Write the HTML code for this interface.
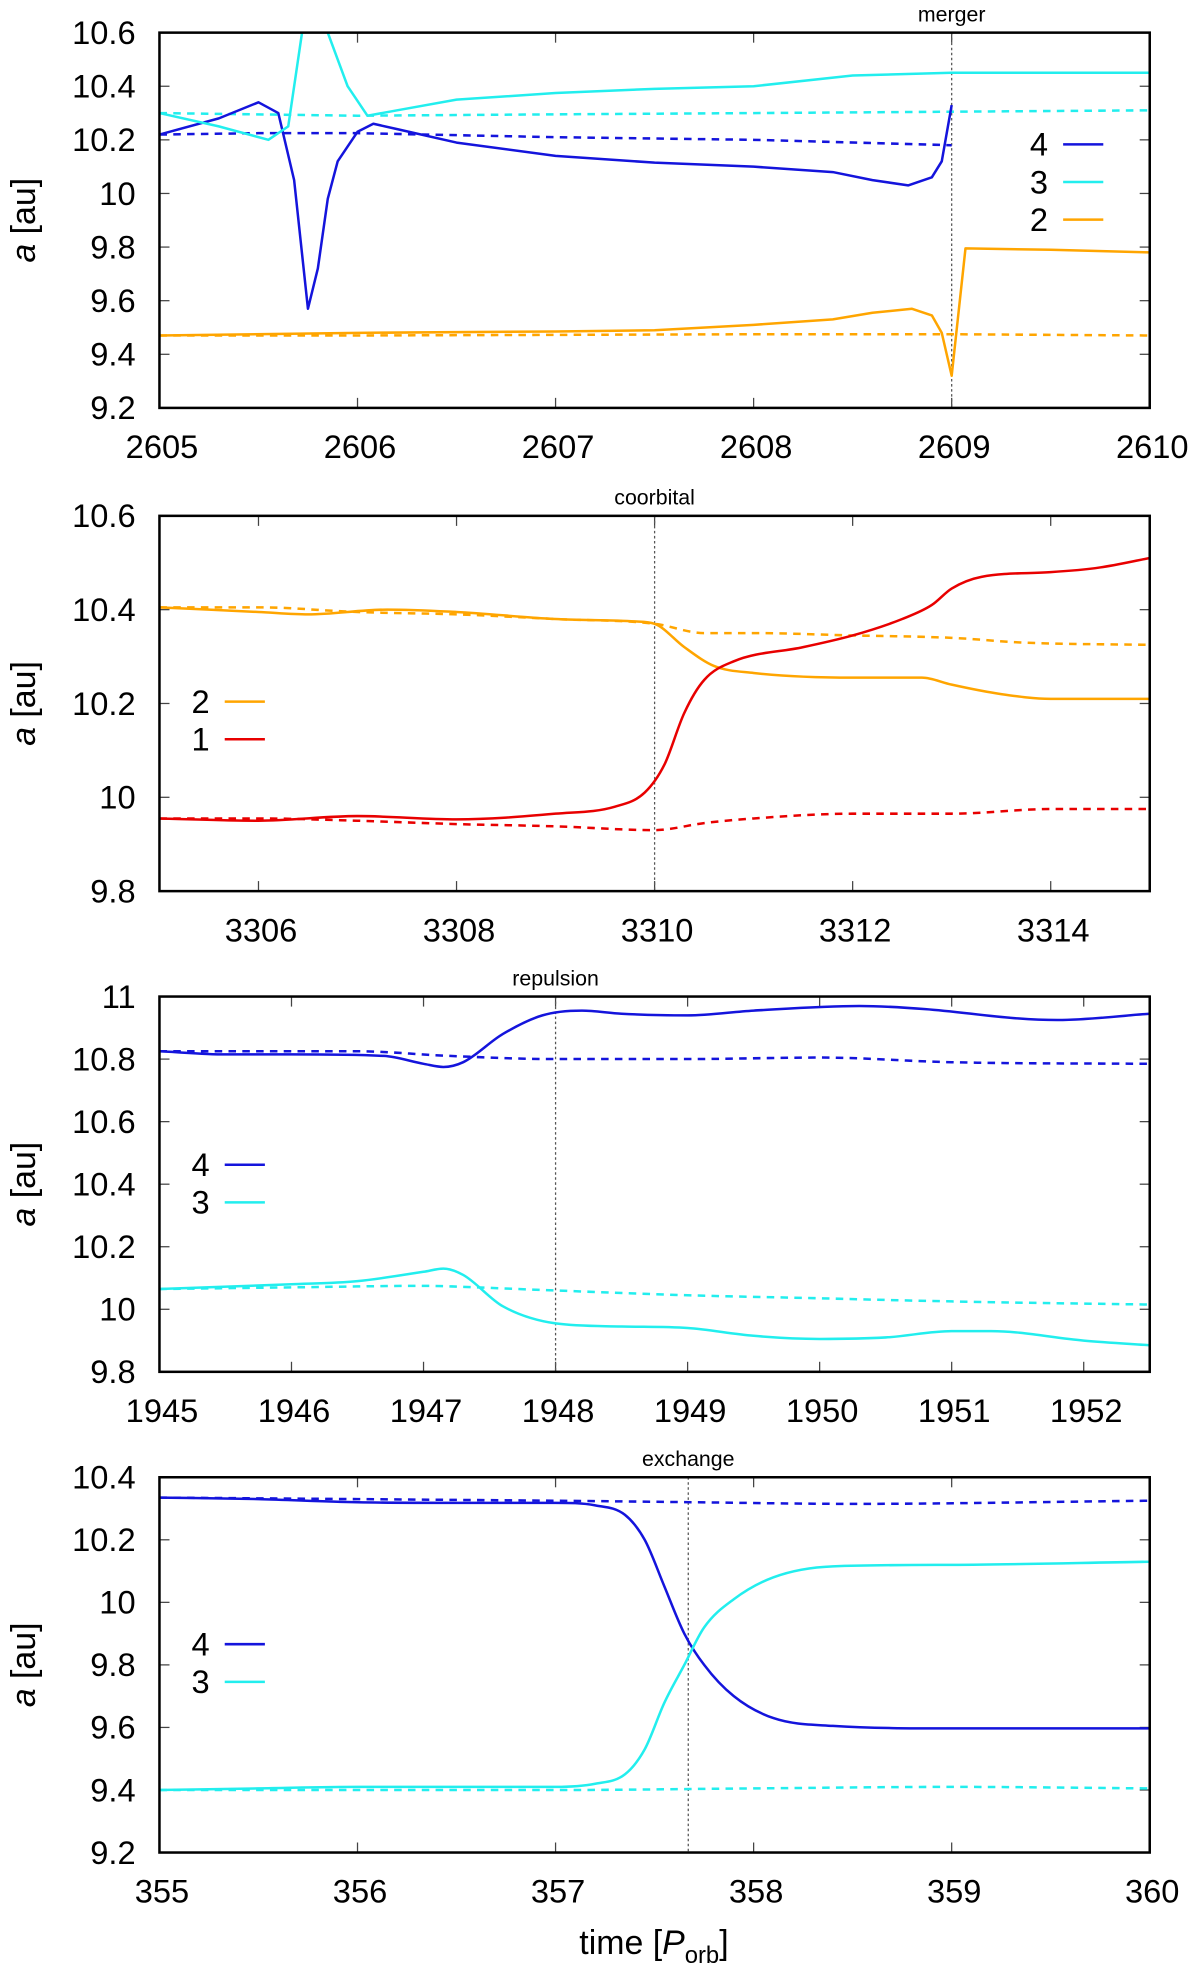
<!DOCTYPE html>
<html><head><meta charset="utf-8"><style>
html,body{margin:0;padding:0;background:#fff;}
svg{display:block;font-family:"Liberation Sans",sans-serif;}
</style></head><body>
<svg id="fig" width="1200" height="1968" viewBox="0 0 956 1568" xmlns="http://www.w3.org/2000/svg"></svg>
<script>
// ---- Panel data (top level) ----
const p1Title = "merger";
const p1XTicks = [2605, 2606, 2607, 2608, 2609, 2610];
const p1YTicks = [9.2, 9.4, 9.6, 9.8, 10, 10.2, 10.4, 10.6];
const p1YTickLabels = ["9.2","9.4","9.6","9.8","10","10.2","10.4","10.6"];
const p1Event = 2609;
const p1BlueX = [2605,2605.3,2605.5,2605.6,2605.68,2605.75,2605.8,2605.85,2605.9,2606,2606.08,2606.2,2606.5,2607,2607.5,2608,2608.4,2608.6,2608.78,2608.9,2608.95,2609];
const p1BlueY = [10.22,10.28,10.34,10.3,10.05,9.57,9.72,9.98,10.12,10.23,10.26,10.24,10.19,10.14,10.115,10.1,10.08,10.05,10.03,10.06,10.12,10.33];
const p1BlueDX = [2605,2605.5,2606,2607,2608,2609];
const p1BlueDY = [10.22,10.225,10.225,10.21,10.2,10.18];
const p1CyanX = [2605,2605.3,2605.55,2605.65,2605.72,2605.78,2605.85,2605.95,2606.05,2606.2,2606.5,2607,2607.5,2608,2608.5,2609,2610];
const p1CyanY = [10.3,10.25,10.2,10.25,10.6,10.9,10.6,10.4,10.29,10.31,10.35,10.375,10.39,10.4,10.44,10.45,10.45];
const p1CyanDX = [2605,2606,2607,2608,2609,2610];
const p1CyanDY = [10.3,10.29,10.295,10.3,10.305,10.31];
const p1OrangeX = [2605,2606,2607,2607.5,2608,2608.4,2608.6,2608.8,2608.9,2608.95,2609,2609.07,2609.5,2610];
const p1OrangeY = [9.47,9.48,9.485,9.49,9.51,9.53,9.555,9.57,9.545,9.48,9.32,9.795,9.79,9.78];
const p1OrangeDX = [2605,2606,2608,2609,2610];
const p1OrangeDY = [9.47,9.47,9.475,9.475,9.47];

const p2Title = "coorbital";
const p2XTicks = [3306, 3308, 3310, 3312, 3314];
const p2YTicks = [9.8, 10, 10.2, 10.4, 10.6];
const p2YTickLabels = ["9.8","10","10.2","10.4","10.6"];
const p2Event = 3310;
const p2OrangeX = [3305,3306,3306.5,3307.3,3308,3309,3309.8,3310,3310.3,3310.6,3311,3312,3312.7,3313,3313.5,3314,3315];
const p2OrangeY = [10.405,10.395,10.39,10.4,10.395,10.38,10.375,10.37,10.32,10.28,10.265,10.255,10.255,10.24,10.22,10.21,10.21];
const p2OrangeDX = [3305,3306,3307,3308,3309,3310,3310.5,3311,3312,3313,3313.7,3315];
const p2OrangeDY = [10.405,10.405,10.395,10.39,10.38,10.37,10.35,10.35,10.345,10.34,10.33,10.325];
const p2RedX = [3305,3306,3307,3308,3309,3309.6,3309.9,3310.1,3310.3,3310.5,3310.8,3311.5,3312,3312.5,3312.8,3313,3313.3,3314,3314.5,3315];
const p2RedY = [9.955,9.95,9.96,9.953,9.965,9.98,10.01,10.07,10.18,10.25,10.29,10.32,10.345,10.38,10.41,10.445,10.47,10.48,10.49,10.51];
const p2RedDX = [3305,3306,3307,3308,3309,3310,3310.5,3311,3312,3313,3314,3315];
const p2RedDY = [9.955,9.955,9.95,9.943,9.938,9.93,9.945,9.955,9.965,9.965,9.975,9.975];

const p3Title = "repulsion";
const p3XTicks = [1945,1946,1947,1948,1949,1950,1951,1952];
const p3YTicks = [9.8,10,10.2,10.4,10.6,10.8,11];
const p3YTickLabels = ["9.8","10","10.2","10.4","10.6","10.8","11"];
const p3Event = 1948;
const p3BlueX = [1945,1945.5,1946,1946.7,1947,1947.15,1947.3,1947.6,1947.9,1948.2,1948.5,1949,1949.5,1950.3,1950.8,1951.5,1951.8,1952.5];
const p3BlueY = [10.825,10.815,10.815,10.81,10.785,10.775,10.79,10.88,10.94,10.955,10.945,10.94,10.955,10.97,10.96,10.93,10.925,10.945];
const p3BlueDX = [1945,1946.5,1947.2,1948,1949,1950,1951,1952.5];
const p3BlueDY = [10.825,10.825,10.81,10.8,10.8,10.805,10.79,10.785];
const p3CyanX = [1945,1946,1946.5,1947,1947.15,1947.3,1947.6,1948,1948.5,1949,1949.5,1950,1950.5,1951,1951.3,1952,1952.5];
const p3CyanY = [10.065,10.08,10.09,10.12,10.13,10.11,10.01,9.955,9.945,9.94,9.915,9.905,9.91,9.93,9.93,9.9,9.885];
const p3CyanDX = [1945,1946,1947,1947.4,1948,1949,1950,1951,1952.5];
const p3CyanDY = [10.065,10.07,10.075,10.07,10.06,10.045,10.035,10.025,10.015];

const p4Title = "exchange";
const p4XTicks = [355,356,357,358,359,360];
const p4YTicks = [9.2,9.4,9.6,9.8,10,10.2,10.4];
const p4YTickLabels = ["9.2","9.4","9.6","9.8","10","10.2","10.4"];
const p4Event = 357.67;
const p4BlueX = [355,355.5,356,356.5,357,357.2,357.35,357.45,357.55,357.65,357.75,357.9,358.1,358.4,359,360];
const p4BlueY = [10.335,10.33,10.32,10.318,10.318,10.31,10.28,10.2,10.05,9.9,9.8,9.7,9.63,9.605,9.597,9.597];
const p4BlueDX = [355,356,357,357.7,358.5,360];
const p4BlueDY = [10.335,10.33,10.325,10.32,10.315,10.325];
const p4CyanX = [355,355.5,356,356.5,357,357.2,357.35,357.45,357.55,357.65,357.75,357.9,358.1,358.4,359,360];
const p4CyanY = [9.4,9.405,9.41,9.41,9.41,9.42,9.45,9.53,9.68,9.8,9.92,10.01,10.08,10.115,10.12,10.13];
const p4CyanDX = [355,356,357,358,359,360];
const p4CyanDY = [9.4,9.4,9.4,9.405,9.41,9.405];

const BLUE="#1414dc", CYAN="#22eeee", ORANGE="#ffa500", RED="#e80000";
const NS="http://www.w3.org/2000/svg";
const svg=document.getElementById('fig');
function mk(tag,attrs,parent){const e=document.createElementNS(NS,tag);for(const k in attrs)e.setAttribute(k,attrs[k]);(parent||svg).appendChild(e);return e;}

// monotone cubic path through pixel points
function monoPath(P){
  const n=P.length; if(n<3) return 'M'+P.map(p=>p[0].toFixed(1)+','+p[1].toFixed(1)).join(' L');
  const d=[],m=[];
  for(let i=0;i<n-1;i++){d.push((P[i+1][1]-P[i][1])/(P[i+1][0]-P[i][0]));}
  m[0]=d[0]; m[n-1]=d[n-2];
  for(let i=1;i<n-1;i++){ m[i]=(d[i-1]*d[i]<=0)?0:(d[i-1]+d[i])/2; }
  for(let i=0;i<n-1;i++){
    if(d[i]===0){m[i]=0;m[i+1]=0;continue;}
    const a=m[i]/d[i],b=m[i+1]/d[i],s=a*a+b*b;
    if(s>9){const t=3/Math.sqrt(s);m[i]=t*a*d[i];m[i+1]=t*b*d[i];}
  }
  let s='M'+P[0][0].toFixed(1)+','+P[0][1].toFixed(1);
  for(let i=0;i<n-1;i++){
    const h=(P[i+1][0]-P[i][0])/3;
    s+=' C'+(P[i][0]+h).toFixed(1)+','+(P[i][1]+m[i]*h).toFixed(1)+' '+(P[i+1][0]-h).toFixed(1)+','+(P[i+1][1]-m[i+1]*h).toFixed(1)+' '+P[i+1][0].toFixed(1)+','+P[i+1][1].toFixed(1);
  }
  return s;
}

function panel(idx,cfg){
  const L=127,R=916,T=cfg.top,B=cfg.top+299;
  const sx=v=>L+(v-cfg.x0)/(cfg.x1-cfg.x0)*(R-L);
  const sy=v=>B-(v-cfg.y0)/(cfg.y1-cfg.y0)*(B-T);
  const g=mk('g',{});
  
  
  const cp=mk('clipPath',{id:'clip'+idx},g);
  mk('rect',{x:L,y:T,width:R-L,height:B-T},cp);
  cfg.xt.forEach(v=>{
    const x=sx(v);
    const t1=mk('line',{x1:x,y1:B,x2:x,y2:B-8,stroke:'#444','stroke-width':1},g);
    
    
    mk('line',{x1:x,y1:T,x2:x,y2:T+8,stroke:'#444','stroke-width':1},g);
    const tx=mk('text',{x:x+2,y:B+40,'font-size':26,'text-anchor':'middle',fill:'#000'},g);
    tx.textContent=String(v);
    
    
  });
  cfg.yt.forEach((v,i)=>{
    const y=sy(v);
    mk('line',{x1:L,y1:y,x2:L+8,y2:y,stroke:'#444','stroke-width':1},g);
    mk('line',{x1:R,y1:y,x2:R-8,y2:y,stroke:'#444','stroke-width':1},g);
    const ty=mk('text',{x:108,y:y+9,'font-size':26,'text-anchor':'end',fill:'#000'},g);
    ty.textContent=cfg.ytl[i];
    
    
  });
  const ev=mk('line',{x1:sx(cfg.ev),y1:T,x2:sx(cfg.ev),y2:B,stroke:'#555','stroke-width':1,'stroke-dasharray':'2,2'},g);
  
  
  const tt=mk('text',{x:sx(cfg.ev),y:T-9,'font-size':17,'text-anchor':'middle',fill:'#000'},g);
  tt.textContent=cfg.title;
  
  
  const sg=mk('g',{'clip-path':'url(#clip'+idx+')'},g);
  cfg.series.forEach(s=>{
    const P=s.x.map((v,i)=>[sx(v),sy(s.y[i])]);
    const a={fill:'none',stroke:s.c,'stroke-width':2,'stroke-linejoin':'round'};
    if(s.d)a['stroke-dasharray']='6,5';
    a.d=cfg.smooth?monoPath(P):'M'+P.map(p=>p[0].toFixed(1)+','+p[1].toFixed(1)).join(' L');
    const pl=mk('path',a,sg);
    
    
  });
  const fr=mk('rect',{x:L,y:T,width:R-L,height:B-T,fill:'none',stroke:'#000','stroke-width':2},g);
  
  
  const yl=mk('text',{x:0,y:0,'font-size':27,'text-anchor':'middle',fill:'#000',transform:'translate(28,'+((T+B)/2)+') rotate(-90)'},g);
  
  
  const yi=mk('tspan',{'font-style':'italic'},yl); yi.textContent='a';
  const yr=mk('tspan',{},yl); yr.textContent=' [au]';
  cfg.leg.forEach((e,i)=>{
    const y=cfg.legY+i*30;
    const lt=mk('text',{x:cfg.legX,y:y+9,'font-size':26,'text-anchor':'end',fill:'#000'},g);
    lt.textContent=e.t;
    
    
    const ll=mk('line',{x1:cfg.legX+12,y1:y,x2:cfg.legX+44,y2:y,stroke:e.c,'stroke-width':2},g);
    
    
  });
}

panel(1,{top:26,x0:2605,x1:2610,y0:9.2,y1:10.6,xt:p1XTicks,yt:p1YTicks,ytl:p1YTickLabels,ev:p1Event,title:p1Title,smooth:false,
  series:[{x:p1BlueDX,y:p1BlueDY,c:BLUE,d:1,n:'planet4-initial'},{x:p1CyanDX,y:p1CyanDY,c:CYAN,d:1,n:'planet3-initial'},{x:p1OrangeDX,y:p1OrangeDY,c:ORANGE,d:1,n:'planet2-initial'},
          {x:p1BlueX,y:p1BlueY,c:BLUE,n:'planet4-line'},{x:p1CyanX,y:p1CyanY,c:CYAN,n:'planet3-line'},{x:p1OrangeX,y:p1OrangeY,c:ORANGE,n:'planet2-line'}],
  legX:835,legY:115,leg:[{t:'4',c:BLUE},{t:'3',c:CYAN},{t:'2',c:ORANGE}]});
panel(2,{top:411,x0:3305,x1:3315,y0:9.8,y1:10.6,xt:p2XTicks,yt:p2YTicks,ytl:p2YTickLabels,ev:p2Event,title:p2Title,smooth:true,
  series:[{x:p2OrangeDX,y:p2OrangeDY,c:ORANGE,d:1,n:'planet2-initial'},{x:p2RedDX,y:p2RedDY,c:RED,d:1,n:'planet1-initial'},
          {x:p2OrangeX,y:p2OrangeY,c:ORANGE,n:'planet2-line'},{x:p2RedX,y:p2RedY,c:RED,n:'planet1-line'}],
  legX:167,legY:559,leg:[{t:'2',c:ORANGE},{t:'1',c:RED}]});
panel(3,{top:794,x0:1945,x1:1952.5,y0:9.8,y1:11,xt:p3XTicks,yt:p3YTicks,ytl:p3YTickLabels,ev:p3Event,title:p3Title,smooth:true,
  series:[{x:p3BlueDX,y:p3BlueDY,c:BLUE,d:1,n:'planet4-initial'},{x:p3CyanDX,y:p3CyanDY,c:CYAN,d:1,n:'planet3-initial'},
          {x:p3BlueX,y:p3BlueY,c:BLUE,n:'planet4-line'},{x:p3CyanX,y:p3CyanY,c:CYAN,n:'planet3-line'}],
  legX:167,legY:928,leg:[{t:'4',c:BLUE},{t:'3',c:CYAN}]});
panel(4,{top:1177,x0:355,x1:360,y0:9.2,y1:10.4,xt:p4XTicks,yt:p4YTicks,ytl:p4YTickLabels,ev:p4Event,title:p4Title,smooth:true,
  series:[{x:p4BlueDX,y:p4BlueDY,c:BLUE,d:1,n:'planet4-initial'},{x:p4CyanDX,y:p4CyanDY,c:CYAN,d:1,n:'planet3-initial'},
          {x:p4BlueX,y:p4BlueY,c:BLUE,n:'planet4-line'},{x:p4CyanX,y:p4CyanY,c:CYAN,n:'planet3-line'}],
  legX:167,legY:1310,leg:[{t:'4',c:BLUE},{t:'3',c:CYAN}]});

const xl=mk('text',{x:521,y:1557,'font-size':27,'text-anchor':'middle',fill:'#000'});


const a1=mk('tspan',{},xl); a1.textContent='time [';
const a2=mk('tspan',{'font-style':'italic'},xl); a2.textContent='P';
const a3=mk('tspan',{'font-size':19,dy:7},xl); a3.textContent='orb';
const a4=mk('tspan',{dy:-7},xl); a4.textContent=']';
</script>
</body></html>
